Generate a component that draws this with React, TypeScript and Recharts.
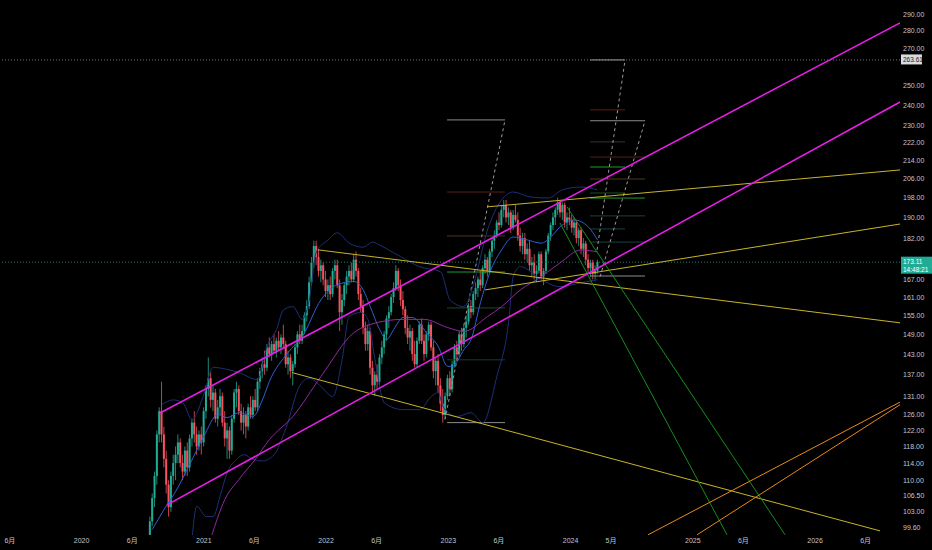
import { ComposedChart, Bar, Line, XAxis, YAxis, ReferenceLine } from 'recharts';

// weekly candles [open, high, low, close], first week starts 2020-07-24
const firstWeek = Date.UTC(2020, 6, 24);
const candles: number[][] = [
  [98,102,96,101],[101,107,100,106],[106,112,104,111],[111,122,109,121],[121,128,119,127],
  [127,135,119,121],[121,123,113,115],[115,117,107,109],[109,110,102,104],[104,112,103,111],
  [111,116,109,114],[114,118,110,116],[116,121,114,119],[119,120,113,114],[114,116,110,112],
  [112,118,111,117],[117,119,111,113],[113,121,112,120],[120,125,118,124],[124,127,119,121],
  [121,123,116,118],[118,122,117,121],[121,123,116,119],[119,128,118,127],[127,134,125,133],
  [133,142,131,136],[136,138,128,130],[130,134,127,132],[132,133,124,125],[125,130,123,128],
  [128,133,126,131],[131,132,123,124],[124,127,118,120],[120,124,115,122],[122,123,115,117],
  [117,126,116,125],[125,133,124,132],[132,135,128,133],[133,134,126,127],[127,129,122,124],
  [124,128,121,126],[126,127,120,123],[123,129,122,128],[128,131,125,126],[126,131,125,130],
  [130,133,127,128],[128,136,127,135],[135,139,133,138],[138,142,136,140],[140,144,137,139],
  [139,146,138,145],[145,148,142,143],[143,147,141,146],[146,149,143,144],[144,148,142,147],
  [147,150,144,145],[145,149,143,148],[148,152,145,146],[146,147,139,140],[140,144,137,142],
  [142,143,136,138],[138,141,134,140],[140,146,139,145],[145,150,143,149],[149,152,146,147],
  [147,152,146,150],[150,156,149,155],[155,160,153,158],[158,168,157,166],[166,175,165,173],
  [173,181,171,179],[179,181,172,175],[175,178,168,170],[170,174,166,172],[172,173,165,167],
  [167,170,161,163],[163,167,160,165],[165,168,160,162],[162,171,161,170],[170,174,167,172],
  [172,174,164,165],[165,167,150,156],[156,162,152,160],[160,166,158,165],[165,170,162,168],
  [168,172,165,170],[170,173,166,167],[167,176,166,174],[174,177,168,170],[170,171,160,162],
  [162,164,156,158],[158,160,149,151],[151,153,144,146],[146,152,144,150],[150,151,137,139],
  [139,141,132,134],[134,138,131,137],[137,140,133,135],[135,143,134,142],[142,147,140,145],
  [145,150,143,149],[149,155,147,154],[154,158,151,156],[156,162,155,161],[161,166,159,164],
  [164,172,163,170],[170,171,163,165],[165,167,158,160],[160,163,155,157],[157,158,149,151],
  [151,155,146,148],[148,152,144,150],[150,151,141,143],[143,147,139,140],[140,148,139,147],
  [147,153,146,152],[152,154,146,147],[147,149,141,143],[143,150,142,149],[149,153,147,152],
  [152,153,144,145],[145,147,136,138],[138,142,134,141],[141,143,132,134],[134,136,127,129],
  [129,133,124,126],[126,132,125,131],[131,137,130,136],[136,138,131,133],[133,141,132,140],
  [140,146,139,145],[145,147,141,143],[143,150,142,149],[149,151,144,146],[146,152,145,151],
  [151,155,148,153],[153,159,152,158],[158,160,154,156],[156,163,155,162],[162,166,160,164],
  [164,168,161,167],[167,170,163,165],[165,172,164,171],[171,176,169,174],[174,175,168,170],
  [170,178,169,177],[177,182,175,181],[181,185,178,183],[183,189,182,188],[188,192,185,187],
  [187,195,186,193],[193,197,190,195],[195,197,188,190],[190,194,187,192],[192,193,184,186],
  [186,193,185,191],[191,195,188,189],[189,192,181,183],[183,186,177,179],[179,184,176,182],
  [182,184,174,176],[176,180,173,178],[178,181,170,172],[172,175,168,173],[173,176,167,169],
  [169,172,166,170],[170,177,169,176],[176,177,167,168],[168,171,165,170],[170,178,169,177],
  [177,184,176,183],[183,188,181,187],[187,192,185,190],[190,194,187,193],[193,198,191,196],
  [196,197,190,192],[192,196,189,195],[195,196,186,188],[188,192,185,190],[190,194,187,189],
  [189,191,184,186],[186,190,183,188],[188,189,180,182],[182,186,179,185],[185,186,176,178],
  [178,182,175,180],[180,181,172,174],[174,176,169,171],[171,174,168,173],[173,174,167,169],
  [169,172,167,170],[170,174,169,173.11],
];

// indicator readings [week index, price]
const bbMid: number[][] = [[1,99.3],[6,103.5],[11,107.5],[17,113.7],[23,120.5],[29,126.1],[33,125.3],[38,126.6],[44,125.6],[48,130],[51,135.1],[59,143.5],[65,148.3],[73,160.1],[80,165.2],[87,166.3],[91,163.4],[94,157.8],[98,150.5],[101,147.4],[104,150.5],[108,154.3],[112,154.3],[118,149.5],[123,145.3],[127,139.4],[129,139.4],[134,144.4],[137,147.4],[141,159.1],[145,169.4],[150,177.6],[155,182.4],[161,181.3],[167,180.1],[171,182.4],[175,186.3],[181,189],[187,186.3],[191,181.3]];
const bbUpper: number[][] = [[5,128.7],[10,130],[14,129.2],[18,124.8],[23,131.4],[27,139.1],[33,138.5],[38,137.6],[46,135.6],[50,145.3],[54,150.5],[57,156.8],[61,157.8],[65,153.7],[68,160.1],[71,176.8],[76,181.3],[80,184],[85,180.1],[91,178.6],[95,180.5],[98,179.4],[104,176.5],[107,175.1],[115,171.5],[124,169.7],[128,160.1],[134,157.8],[138,165.2],[144,185.1],[150,197],[155,200.3],[162,198.3],[170,197.8],[176,201.2],[184,202.4],[191,201.2]];
const bbLower: number[][] = [[18,97.5],[20,104.2],[24,102],[27,102],[30,106.5],[33,111.8],[37,114.9],[40,116],[44,114.9],[48,114.5],[53,116],[58,122.5],[64,134],[68,136],[73,133.7],[78,130.9],[82,141.4],[85,154.6],[90,155.9],[93,153.7],[96,141.4],[100,129.2],[108,127.4],[115,127.4],[120,130.9],[123,132],[125,128.2],[131,125.6],[137,126.6],[142,124],[148,136.5],[153,152.7],[155,168],[158,171.5],[167,166.9],[175,164.5],[184,165.9],[191,166.9]];
const maSlow: number[][] = [[26,97.5],[32,105.7],[38,110.2],[45,114.9],[51,119.7],[61,125.6],[73,136.5],[87,149.5],[94,152.1],[108,153.7],[117,153.7],[127,151.1],[134,149.9],[144,154.6],[150,157.8],[158,163.4],[167,168],[175,172.9],[184,177.6],[191,176.8]];

// x axis ticks
const tickDates = ['2019-06-01','2020-01-01','2020-06-01','2021-01-01','2021-06-01','2022-01-01','2022-06-01','2023-01-01','2023-06-01','2024-01-01','2024-05-01','2025-01-01','2025-06-01','2026-01-01','2026-06-01'];
const priceTicks = [99.6, 103, 106.5, 110, 114, 118, 122, 126, 131, 137, 143, 149, 155, 161, 167, 182, 190, 198, 206, 214, 222, 230, 240, 250, 270, 280, 290];

// drawings: [year1, price1, year2, price2, color]
const channel: any[] = [
  [2020.642, 126.5, 2026.695, 284.7, '#e61ee6'],
  [2020.699, 104.5, 2026.695, 241.5, '#e61ee6'],
];
const trendLines: any[] = [
  [2021.722, 137.6, 2026.532, 99.0, '#c8b42a'],
  [2021.935, 177.6, 2026.695, 152.6, '#c8b42a'],
  [2023.317, 194.2, 2026.695, 209.7, '#c8b42a'],
  [2023.301, 163.4, 2026.695, 187.4, '#c8b42a'],
  [2023.914, 187.8, 2025.280, 98.2, '#178f1c'],
  [2023.971, 194.2, 2025.755, 98.2, '#178f1c'],
  [2024.634, 98.2, 2026.695, 129.4, '#e8891c'],
  [2025.035, 98.2, 2026.695, 128.7, '#e8891c'],
];
const dashed: number[][] = [
  [2022.973, 124.8, 2023.464, 232.7],
  [2024.217, 177.6, 2024.446, 263.61],
  [2024.242, 168.0, 2024.609, 232.3],
];
const levels: any[] = [
  [2022.990, 2023.464, 232.7, '#8c8c8c'],
  [2022.990, 2023.464, 200.3, '#5a1c1c'],
  [2022.990, 2023.464, 182.8, '#4a3a1c'],
  [2022.990, 2023.464, 169.6, '#1f9a2a'],
  [2022.990, 2023.464, 157.4, '#1d4a2a'],
  [2022.990, 2023.464, 141.3, '#1a3a3a'],
  [2022.990, 2023.464, 124.0, '#8c8c8c'],
  [2024.160, 2024.446, 263.61, '#9a9a9a'],
  [2024.160, 2024.446, 237.6, '#5a1c1c'],
  [2024.160, 2024.609, 232.3, '#8c8c8c'],
  [2024.160, 2024.446, 222.3, '#333333'],
  [2024.160, 2024.609, 215.4, '#5a1c1c'],
  [2024.160, 2024.446, 211.0, '#1f9a2a'],
  [2024.160, 2024.609, 205.8, '#4a3a1c'],
  [2024.160, 2024.446, 199.9, '#1d4a2a'],
  [2024.160, 2024.609, 197.8, '#1f9a2a'],
  [2024.160, 2024.609, 190.6, '#1a4040'],
  [2024.160, 2024.446, 185.5, '#1a4040'],
  [2024.160, 2024.609, 180.5, '#1a4040'],
  [2024.160, 2024.609, 168.2, '#8c8c8c'],
];

const toYear = (ms: number) => {
  const y = new Date(ms).getUTCFullYear();
  const a = Date.UTC(y, 0, 1);
  const b = Date.UTC(y + 1, 0, 1);
  return y + (ms - a) / (b - a);
};
const WEEK = 7 * 24 * 3600 * 1000;

const rows: any[] = candles.map(([o, h, l, c], i) => ({
  t: toYear(firstWeek + i * WEEK), o, h, l, c, range: [l, h],
}));
const put = (arr: number[][], key: string) => arr.forEach(([i, v]) => { rows[i][key] = v; });
put(bbMid, 'mid');
put(bbUpper, 'upper');
put(bbLower, 'lower');
put(maSlow, 'slow');

const tickVals = tickDates.map((d) => toYear(Date.parse(d + 'T00:00:00Z')));
const tickLabel = (v: number) => {
  const idx = tickVals.findIndex((t) => Math.abs(t - v) < 1e-6);
  const d = tickDates[idx] || '';
  const m = Number(d.slice(5, 7));
  return m === 1 ? d.slice(0, 4) : `${m}月`;
};

const UP = '#22ab94';
const DOWN = '#f7525f';
const FONT = '"Liberation Sans", Arial, "Noto Sans CJK JP", sans-serif';

const Candle = (props: any) => {
  const { x, y, width, height, payload } = props;
  if (!payload) return null;
  const top = Math.min(y, y + height);
  const bottom = Math.max(y, y + height);
  const { o, h, l, c } = payload;
  const lh = Math.log(h);
  const ll = Math.log(l);
  const toY = (v: number) => top + ((bottom - top) * (lh - Math.log(v))) / (lh - ll);
  const cx = x + width / 2;
  const color = c >= o ? UP : DOWN;
  const yo = toY(o);
  const yc = toY(c);
  return (
    <g>
      <line x1={cx} x2={cx} y1={top} y2={bottom} stroke={color} strokeWidth={0.8} />
      <rect x={cx - 1} y={Math.min(yo, yc)} width={2} height={Math.max(Math.abs(yc - yo), 0.8)} fill={color} />
    </g>
  );
};

const Tag = (props: any) => {
  const { viewBox, text, sub, bg, fg } = props;
  if (!viewBox) return null;
  const y = viewBox.y;
  const left = viewBox.x + viewBox.width + 1;
  const h = sub ? 17 : 10;
  return (
    <g>
      <rect x={left} y={y - 5.5} width={sub ? 31 : 21} height={h} fill={bg} />
      <text x={left + 2} y={y + 2.2} fontSize={6.5} fill={fg} fontFamily={FONT}>{text}</text>
      {sub && <text x={left + 2} y={y + 9.5} fontSize={6.5} fill={fg} fontFamily={FONT}>{sub}</text>}
    </g>
  );
};

export default function App() {
  return (
    <div style={{ position: 'fixed', left: 0, top: 0, width: 932, height: 550, background: '#000' }}>
      <ComposedChart width={932} height={550} data={rows} margin={{ top: 0, right: 0, bottom: 0, left: 0 }}>
        <XAxis
          type="number"
          dataKey="t"
          domain={[2019.333, 2026.695]}
          allowDataOverflow
          ticks={tickVals}
          tickFormatter={tickLabel}
          axisLine={false}
          tickLine={false}
          tickSize={0}
          tickMargin={3}
          height={15}
          tick={{ fontSize: 7, fill: '#c3c6ce', fontFamily: FONT }}
        />
        <YAxis
          orientation="right"
          scale="log"
          domain={[98.16, 298.6]}
          allowDataOverflow
          ticks={priceTicks}
          tickFormatter={(v: number) => v.toFixed(2)}
          axisLine={false}
          tickLine={false}
          tickSize={0}
          tickMargin={3}
          width={32}
          tick={{ fontSize: 7, fill: '#c3c6ce', fontFamily: FONT }}
        />
        <ReferenceLine y={263.61} stroke="#6f727c" strokeDasharray="1 2" label={<Tag text="263.61" bg="#d9dbe0" fg="#131722" />} />
        <ReferenceLine y={173.11} stroke="#1f7a66" strokeDasharray="1 2" label={<Tag text="173.11" sub="14:48:21" bg={UP} fg="#ffffff" />} />
        {levels.map(([x1, x2, p, col], k) => (
          <ReferenceLine key={'lv' + k} segment={[{ x: x1, y: p }, { x: x2, y: p }]} stroke={col} strokeWidth={1} ifOverflow="hidden" />
        ))}
        {dashed.map(([x1, p1, x2, p2], k) => (
          <ReferenceLine key={'ds' + k} segment={[{ x: x1, y: p1 }, { x: x2, y: p2 }]} stroke="#9a9a9a" strokeDasharray="3 3" strokeWidth={1} ifOverflow="hidden" />
        ))}
        <Bar dataKey="range" barSize={2} shape={(p: any) => <Candle {...p} />} isAnimationActive={false} />
        <Line dataKey="upper" type="monotone" stroke="#1e2f78" strokeWidth={1} dot={false} connectNulls isAnimationActive={false} />
        <Line dataKey="lower" type="monotone" stroke="#1e2f78" strokeWidth={1} dot={false} connectNulls isAnimationActive={false} />
        <Line dataKey="mid" type="monotone" stroke="#2f5fd0" strokeWidth={1} dot={false} connectNulls isAnimationActive={false} />
        <Line dataKey="slow" type="monotone" stroke="#8e2aa0" strokeWidth={1} dot={false} connectNulls isAnimationActive={false} />
        {trendLines.map(([x1, p1, x2, p2, col], k) => (
          <ReferenceLine key={'tl' + k} segment={[{ x: x1, y: p1 }, { x: x2, y: p2 }]} stroke={col} strokeWidth={1} ifOverflow="hidden" />
        ))}
        {channel.map(([x1, p1, x2, p2, col], k) => (
          <ReferenceLine key={'ch' + k} segment={[{ x: x1, y: p1 }, { x: x2, y: p2 }]} stroke={col} strokeWidth={1.6} ifOverflow="hidden" />
        ))}
      </ComposedChart>
    </div>
  );
}
